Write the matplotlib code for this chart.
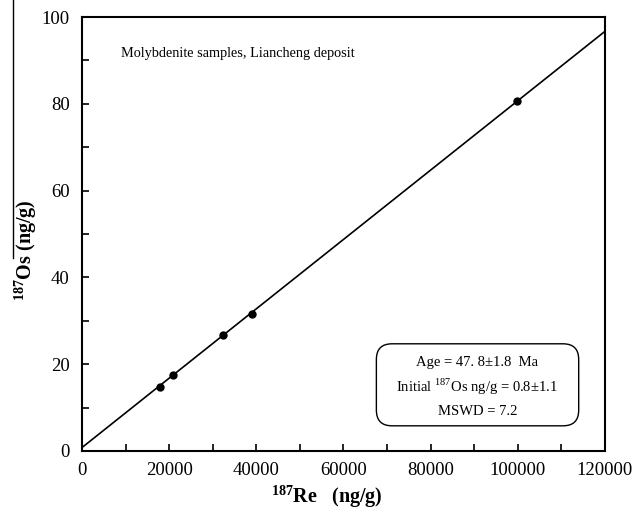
import matplotlib
matplotlib.use("Agg")
import matplotlib.pyplot as plt
import numpy as np
from matplotlib.patches import FancyBboxPatch
from matplotlib.lines import Line2D

# measured samples (187Re vs 187Os, ng/g)
re187 = [17900, 20800, 32300, 39000, 99900]
os187 = [14.7, 17.5, 26.7, 31.6, 80.6]

# isochron fit
intercept = 0.8
slope = 0.000799
x_fit = [0, 120000]

x_ticks = [0, 20000, 40000, 60000, 80000, 100000, 120000]
y_ticks = [0, 20, 40, 60, 80, 100]

plt.rcParams['font.family'] = ['Liberation Serif', 'DejaVu Serif']
plt.rcParams['mathtext.fontset'] = 'custom'
plt.rcParams['mathtext.rm'] = 'Liberation Serif'
plt.rcParams['mathtext.bf'] = 'Liberation Serif:bold'

fig = plt.figure(figsize=(6.36, 5.16), dpi=100)
ax = fig.add_axes([0.129, 0.126, 0.822, 0.841])

y_fit = [intercept + slope * x for x in x_fit]
ax.plot(x_fit, y_fit, color='black', lw=1.2)
ax.plot(re187, os187, 'o', color='black', markersize=5)

ax.set_xlim(0, 120000)
ax.set_ylim(0, 100)
ax.set_xticks(x_ticks)
ax.set_yticks(y_ticks)
ax.set_xticks(np.arange(10000, 120000, 20000), minor=True)
ax.set_yticks(np.arange(10, 100, 20), minor=True)
ax.tick_params(which='both', direction='in', length=5, width=1.2, labelsize=13.5)
ax.tick_params(axis='x', pad=8)
ax.tick_params(axis='y', pad=9)
for s in ax.spines.values():
    s.set_linewidth(1.5)

ax.text(0.075, 0.915, 'Molybdenite samples, Liancheng deposit',
        transform=ax.transAxes, fontsize=10.3, va='center', ha='left')

box = FancyBboxPatch((0.563, 0.058), 0.387, 0.189,
                     boxstyle='round,pad=0,rounding_size=0.03',
                     mutation_aspect=1.2,
                     transform=ax.transAxes, fc='white', ec='black', lw=1.0)
ax.add_patch(box)
ax.text(0.756, 0.205, 'Age = 47. 8±1.8  Ma', transform=ax.transAxes,
        ha='center', va='center', fontsize=10.5)
ax.text(0.756, 0.147, r'Initial $^{187}$Os ng/g = 0.8±1.1', transform=ax.transAxes,
        ha='center', va='center', fontsize=10.5)
ax.text(0.756, 0.092, 'MSWD = 7.2', transform=ax.transAxes,
        ha='center', va='center', fontsize=10.5)

fig.text(0.514, 0.037, r'$\mathbf{^{187}}$Re   (ng/g)', ha='center', va='center',
         fontsize=14.5, fontweight='bold')
fig.text(0.040, 0.515, r'$\mathbf{^{187}}$Os (ng/g)', ha='center', va='center',
         fontsize=14.5, fontweight='bold', rotation=90)

# stray rule next to the y label, as in the scan
fig.add_artist(Line2D([13 / 636, 13 / 636], [1.0, 1 - 258 / 516],
                      transform=fig.transFigure, color='black', lw=1.0))

fig.savefig('out.png', dpi=100)
